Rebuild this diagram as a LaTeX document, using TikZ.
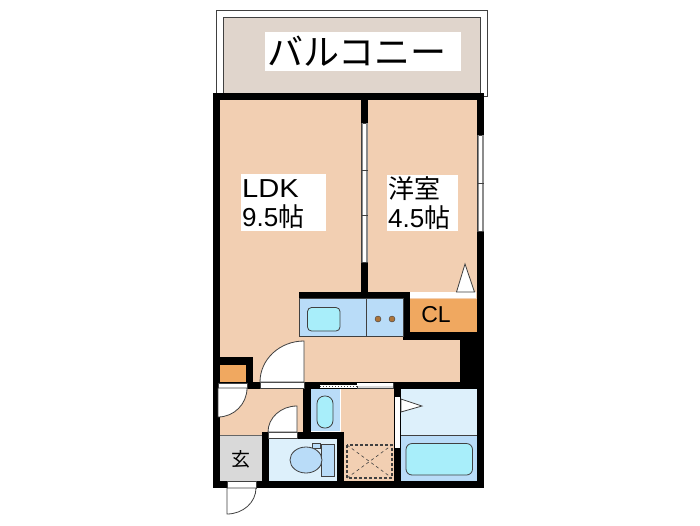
\documentclass[tikz,border=0pt]{standalone}
\usepackage{xcolor}
\usepackage{fontspec}
\setmainfont{Liberation Sans}
\newfontfamily\cjk{Noto Sans CJK JP}
\definecolor{floorc}{HTML}{F2CFB2}
\definecolor{balc}{HTML}{E0D5CC}
\definecolor{paleb}{HTML}{DDF0FB}
\definecolor{midb}{HTML}{B9DCF8}
\definecolor{aquab}{HTML}{A8EEFA}
\definecolor{clc}{HTML}{F0A860}
\definecolor{linec}{HTML}{404040}
\tikzset{
  wall/.style={fill=black},
  fixture/.style={draw=linec,line width=0.8pt,rounded corners=5pt,fill=aquab},
  doorleaf/.style={draw=linec,line width=0.8pt,fill=white},
  strip/.style={fill=white,draw=linec,line width=0.3pt},
  roomtext/.style={align=left,inner sep=0pt,font=\fontsize{26}{29}\selectfont},
}
\begin{document}
\begin{tikzpicture}[x=1pt,y=-1pt]
    \useasboundingbox(0,0)rectangle(700,525);
    \fill[white](0,0)rectangle(700,525);
    %balcony
    \draw[linec,line width=0.6pt](216,10)rectangle(487,96);
    \draw[linec,fill=balc,line width=0.6pt](223,17)rectangle(480,93);
    %floors
    \fill[floorc](220,100)rectangle(477,382);
    \fill[floorc](220,389)rectangle(311,435);
    \fill[floorc](341,389)rectangle(394,481);
    \fill[midb](311,389)rectangle(340,431);
    \fill[paleb](401,389)rectangle(477,435);
    \fill[midb](401,435)rectangle(477,481);
    \fill[paleb](269,439)rectangle(337,481);
    \fill[black!15](220,436)rectangle(262,481);
    %walls
    \fill[wall](213,93)rectangle(484,100);
    \fill[wall](213,93)rectangle(220,488);
    \fill[wall](477,93)rectangle(484,340);
    \fill[wall](213,481)rectangle(484,488);
    \fill[wall](361,93)rectangle(368,298);
    \fill[wall](299,292)rectangle(410,298);
    \fill[wall](403,292)rectangle(410,340);
    \fill[wall](403,332)rectangle(484,340);
    \fill[wall](460,340)rectangle(484,389);
    \fill[wall](477,340)rectangle(484,488);
    \fill[wall](213,382)rectangle(484,389);
    \fill[wall](220,357)rectangle(253,365);
    \fill[wall](246,357)rectangle(253,389);
    \fill[wall](303,382)rectangle(311,439);
    \fill[wall](262,432)rectangle(269,488);
    \fill[wall](262,432)rectangle(344,439);
    \fill[wall](337,432)rectangle(344,488);
    \fill[wall](394,382)rectangle(401,488);
    \draw[black!60,line width=0.4pt](220,435.5)--(262,435.5);
    %windows
    \draw[strip,fill=white](361.5,123)rectangle(367.5,262);
    \fill[black!45](361.5,123)rectangle(363,262);
    \fill[black!45](366,123)rectangle(367.5,262);
    \draw[linec,line width=0.4pt](361,170)--(368,170);
    \draw[linec,line width=0.4pt](361,215)--(368,215);
    \draw[strip,fill=white](477.5,135)rectangle(483.5,231);
    \fill[black!45](477.5,135)rectangle(479,231);
    \fill[black!45](482,135)rectangle(483.5,231);
    \draw[linec,line width=0.4pt](477,183)--(484,183);
    %kitchen
    \draw[linec,fill=midb,line width=0.6pt](299,298)rectangle(403,336);
    \draw[linec,line width=0.8pt](366,298)--(366,336);
    \draw[fixture,rounded corners=4pt](307.5,307.5)rectangle(340,331);
    \foreach \dotx in {378,392}{
      \draw[linec,fill=brown!90!black,line width=0.4pt](\dotx,319)circle[radius=3];
    }
    %closet
    \fill[white](410,292)rectangle(476,298);
    \fill[clc](410,299)rectangle(477,332);
    \draw[linec,fill=white,line width=0.8pt](456.5,292)--(465,264)--(474.5,292)--cycle;
    %small box beside the door
    \fill[clc](220,365)rectangle(246,382);
    %doors
    \draw[strip](218,383)rectangle(247,388);
    \draw[doorleaf](218,388)--(247,388)arc(0:90:29)--cycle;
    \draw[strip](260,382)rectangle(304,388);
    \draw[doorleaf](304,382)--(260,382)arc(180:270:44 and 41)--cycle;
    \draw[strip](268,432)rectangle(297,438);
    \draw[doorleaf](297,432)--(268,432)arc(180:270:29 and 26)--cycle;
    \draw[strip](227,481)rectangle(256,488);
    \draw[doorleaf](227,488)--(256,488)arc(0:90:29 and 26)--cycle;
    \draw[linec,line width=0.8pt](227,481)--(227,488);
    %sliding door of the washroom
    \fill[white](320,385)rectangle(357,388);
    \draw[linec,dotted,line width=1pt](320,386.5)--(357,386.5);
    \draw[strip,fill=black!15](357,383)rectangle(393,388);
    \fill[white](357,383)rectangle(393,385.5);
    %basin
    \draw[fixture,rounded corners=7.5pt](317,396)rectangle(333,428);
    %toilet
    \draw[linec,fill=midb,line width=0.8pt](321,444)rectangle(334,476);
    \draw[linec,fill=midb,line width=0.8pt](312,443)rectangle(320,448);
    \draw[linec,fill=midb,line width=0.8pt](306,460)ellipse[x radius=16,y radius=13];
    %washing place
    \draw[linec,densely dashed,line width=1.1pt](347,445)rectangle(392,478);
    \draw[linec,dashed,line width=0.6pt](347,445)--(392,478);
    \draw[linec,dashed,line width=0.6pt](347,478)--(392,445);
    %bath
    \fill[white](395,397)rectangle(400,448);
    \draw[linec,fill=white,line width=0.8pt](401,399)--(422,406)--(401,412)--cycle;
    \draw[fixture,rounded corners=6pt](406,443.5)rectangle(472.5,475);
    \draw[linec,line width=0.4pt](401,435)--(477,435);
    %labels
    \fill[white](265,32)rectangle(461,71);
    \node(balconylabel)at(357,51){\cjk\fontsize{36}{40}\selectfont バルコニー};
    \fill[white](241,174)rectangle(326,231);
    \fill[white](387,175)rectangle(458,231);
    \node[roomtext,anchor=north west](ldklabel)at(242,179){\scalebox{1.12}[1]{LDK}\\9.5{\cjk 帖}};
    \node[roomtext,anchor=north west](roomlabel)at(388,176){{\cjk 洋室}\\4.5{\cjk 帖}};
    \node[font=\fontsize{23}{26}\selectfont](cllabel)at(436,315){CL};
    \node[font=\cjk\fontsize{19}{22}\selectfont](genkanlabel)at(241,459){玄};
  \end{tikzpicture}
\end{document}
